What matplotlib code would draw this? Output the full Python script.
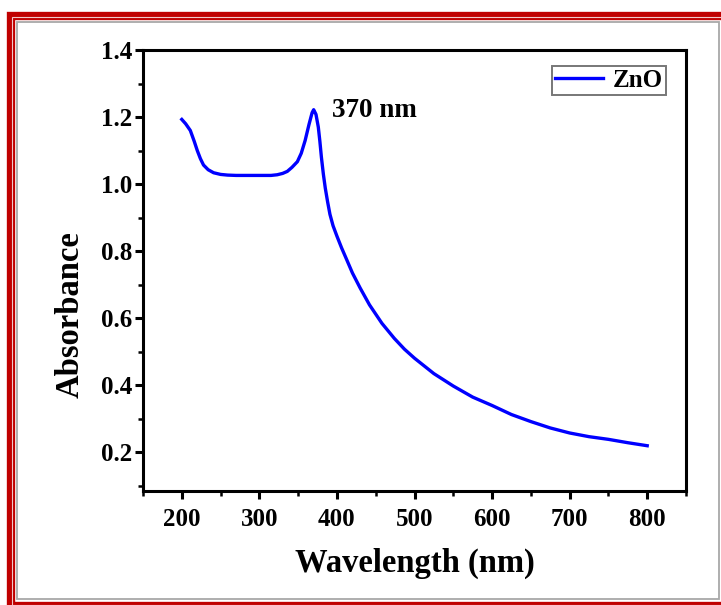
#!/usr/bin/env python3
"""UV-Vis absorbance spectrum of ZnO nanoparticles."""

import matplotlib

matplotlib.use("Agg")
import matplotlib.pyplot as plt
from matplotlib.patches import Rectangle
from matplotlib.ticker import FormatStrFormatter, MultipleLocator

# sampled spectrum (nm, a.u.)
wavelength = [200, 205, 211, 216, 220, 224, 228, 234, 241, 250, 259, 270, 285,
              300, 315, 323, 330, 336, 342, 349, 354, 359, 364, 368, 370, 373,
              376, 378, 380, 382.5, 385, 388, 391, 395, 400, 406, 412, 420, 430,
              442, 458, 474, 487, 500, 525, 550, 575, 600, 625, 650, 675, 700,
              725, 750, 775, 800]
absorbance = [1.193, 1.180, 1.160, 1.128, 1.100, 1.076, 1.057, 1.043, 1.034,
              1.029, 1.027, 1.026, 1.026, 1.026, 1.026, 1.028, 1.032, 1.038,
              1.050, 1.067, 1.092, 1.130, 1.178, 1.213, 1.222, 1.208, 1.170,
              1.128, 1.080, 1.030, 0.988, 0.947, 0.910, 0.876, 0.845, 0.810,
              0.778, 0.735, 0.690, 0.640, 0.585, 0.540, 0.508, 0.481, 0.435,
              0.398, 0.365, 0.340, 0.313, 0.292, 0.273, 0.258, 0.247, 0.239,
              0.229, 0.220]
peak_nm = 370
peak_label = "370 nm"
series_name = "ZnO"

W, H = 721, 605
plt.rcParams["font.family"] = ["Liberation Serif", "DejaVu Serif"]
plt.rcParams["font.weight"] = "bold"

fig = plt.figure(figsize=(W / 100, H / 100), dpi=100)


def px_rect(x0, y0, x1, y1, **kw):
    # rectangle given in pixel coordinates measured from the top-left corner
    r = Rectangle((x0 / W, 1 - y1 / H), (x1 - x0) / W, (y1 - y0) / H,
                  transform=fig.transFigure, fill=False, **kw)
    fig.add_artist(r)


# decorative frame: red band with a light inner stripe, grey shadow inside
px_rect(10.8, 15.8, 740, 605.8, edgecolor="#c00000", linewidth=6.0)
px_rect(11.5, 16.5, 740, 605, edgecolor="#f0c8c8", linewidth=0.8)
px_rect(16.5, 22, 719, 598.5, edgecolor="#a8a8a8", linewidth=1.3)

ax = fig.add_axes([143 / W, 1 - 491 / H, (686 - 143) / W, (491 - 50) / H])
ax.plot(wavelength, absorbance, color="#0000ff", linewidth=2.4, label=series_name)

ax.set_xlim(150, 850)
ax.set_ylim(0.085, 1.4)
ax.xaxis.set_minor_locator(MultipleLocator(50))
ax.yaxis.set_minor_locator(MultipleLocator(0.1))
ax.yaxis.set_major_formatter(FormatStrFormatter("%.1f"))
ax.set_xticks([200, 300, 400, 500, 600, 700, 800])
ax.set_yticks([0.2, 0.4, 0.6, 0.8, 1.0, 1.2, 1.4])

for s in ax.spines.values():
    s.set_linewidth(2.2)
ax.tick_params(which="major", direction="out", length=6, width=2.2,
               labelsize=18, pad=2)
ax.tick_params(axis="x", which="major", pad=6)
ax.tick_params(which="minor", direction="out", length=3.5, width=1.8)

fig.text(415 / W, 1 - 563 / H, "Wavelength (nm)", fontsize=23.5,
         fontweight="bold", ha="center", va="center")
fig.text(70 / W, 1 - 315 / H, "Absorbance", fontsize=23.5,
         fontweight="bold", ha="center", va="center", rotation=90)

ax.text(peak_nm + 24, 1.22, peak_label, fontsize=19.5, fontweight="bold",
        va="center", ha="left")

leg = ax.legend(loc="upper right", bbox_to_anchor=(0.963, 0.964),
                fontsize=18, fancybox=False, edgecolor="#555555",
                handlelength=1.9, borderpad=0.12, handletextpad=0.4,
                borderaxespad=0)
leg.get_frame().set_linewidth(1.4)
for t in leg.get_texts():
    t.set_fontweight("bold")

fig.savefig("out.png", dpi=100)
